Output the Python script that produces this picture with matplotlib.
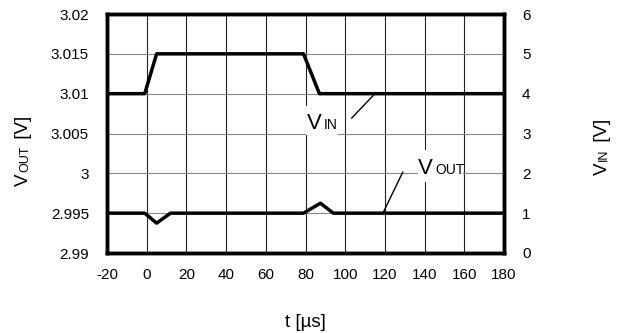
import matplotlib
matplotlib.use("Agg")
import matplotlib.pyplot as plt
from matplotlib.patches import Rectangle

plt.rcParams['font.family'] = ['Liberation Sans', 'DejaVu Sans']
plt.rcParams['axes.unicode_minus'] = False

# Data
vin_t = [-20, -1, 5, 79, 87, 180]
vin_v = [4, 4, 5, 5, 4, 4]
vout_t = [-20, -1, 5, 12, 79, 87.5, 94, 180]
vout_v = [2.995, 2.995, 2.99375, 2.995, 2.995, 2.99625, 2.995, 2.995]
x_ticks = [-20, 0, 20, 40, 60, 80, 100, 120, 140, 160, 180]
left_ticks = [2.99, 2.995, 3.0, 3.005, 3.01, 3.015, 3.02]
left_labels = ['2.99', '2.995', '3', '3.005', '3.01', '3.015', '3.02']
right_ticks = [0, 1, 2, 3, 4, 5, 6]

W, H = 619, 333
fig = plt.figure(figsize=(W / 100, H / 100), dpi=100)
ax = fig.add_axes([107 / W, 1 - 253 / H, (504 - 107) / W, (253 - 14) / H])
ax2 = ax.twinx()

ax.set_xlim(-20, 180)
ax.set_ylim(2.99, 3.02)
ax2.set_ylim(0, 6)

ax.set_xticks(x_ticks)
ax.set_yticks(left_ticks)
ax.set_yticklabels(left_labels)
ax2.set_yticks(right_ticks)

for x in x_ticks:
    ax.axvline(x, color='#222222', lw=0.8, zorder=1)
for y in left_ticks:
    ax.axhline(y, color='#888888', lw=0.8, zorder=1)

ax.plot(vout_t, vout_v, color='black', lw=2.5, zorder=3)
ax2.plot(vin_t, vin_v, color='black', lw=2.5, zorder=3)

ax.tick_params(axis='both', length=0, labelsize=11)
ax.tick_params(axis='y', pad=13)
ax.tick_params(axis='x', pad=11)
ax2.tick_params(axis='y', length=0, labelsize=11, pad=13)

for a in (ax, ax2):
    for s in a.spines.values():
        s.set_linewidth(2.5)
        s.set_color('black')

# white boxes behind annotation labels
ax2.add_patch(Rectangle((80.4, 2.95), 15.8, 0.75, facecolor='white', edgecolor='none', zorder=2))
ax2.add_patch(Rectangle((136.5, 1.78), 22.7, 0.8, facecolor='white', edgecolor='none', zorder=2))

# leader lines
ax2.plot([103.3, 115], [3.39, 4.0], color='black', lw=1.0, zorder=4)
ax2.plot([119, 129], [1.0, 2.03], color='black', lw=1.0, zorder=4)

renderer = fig.canvas.get_renderer()


def rich(x0, y0, pieces, rotation=0, center=False, gap=2):
    """Draw text pieces [(str, size)] on a common baseline starting at pixel (x0, y0)."""
    widths = []
    for s, fs in pieces:
        t = fig.text(0, 0, s, fontsize=fs)
        widths.append(t.get_window_extent(renderer).width + gap)
        t.remove()
    pos = 0.0
    if center:
        pos = -sum(widths) / 2
    for (s, fs), w in zip(pieces, widths):
        if rotation == 0:
            px, py = x0 + pos, y0
        else:
            px, py = x0, y0 - pos
        fig.text(px / W, 1 - py / H, s, fontsize=fs, rotation=rotation,
                 rotation_mode='anchor', ha='left', va='baseline', zorder=6)
        pos += w


rich(307, 129, [('V', 16), ('IN', 10)])
rich(418, 174, [('V', 16), ('OUT', 10)])
rich(28, 150, [('V', 13.5), ('OUT', 9), (' [V]', 13.5)], rotation=90, center=True, gap=1.5)
rich(607, 146, [('V', 13.5), ('IN', 9), (' [V]', 13.5)], rotation=90, center=True, gap=1.5)
fig.text(305 / W, 1 - 327 / H, 't [µs]', fontsize=13.5, ha='center', va='baseline')

fig.savefig('out.png', dpi=100)
